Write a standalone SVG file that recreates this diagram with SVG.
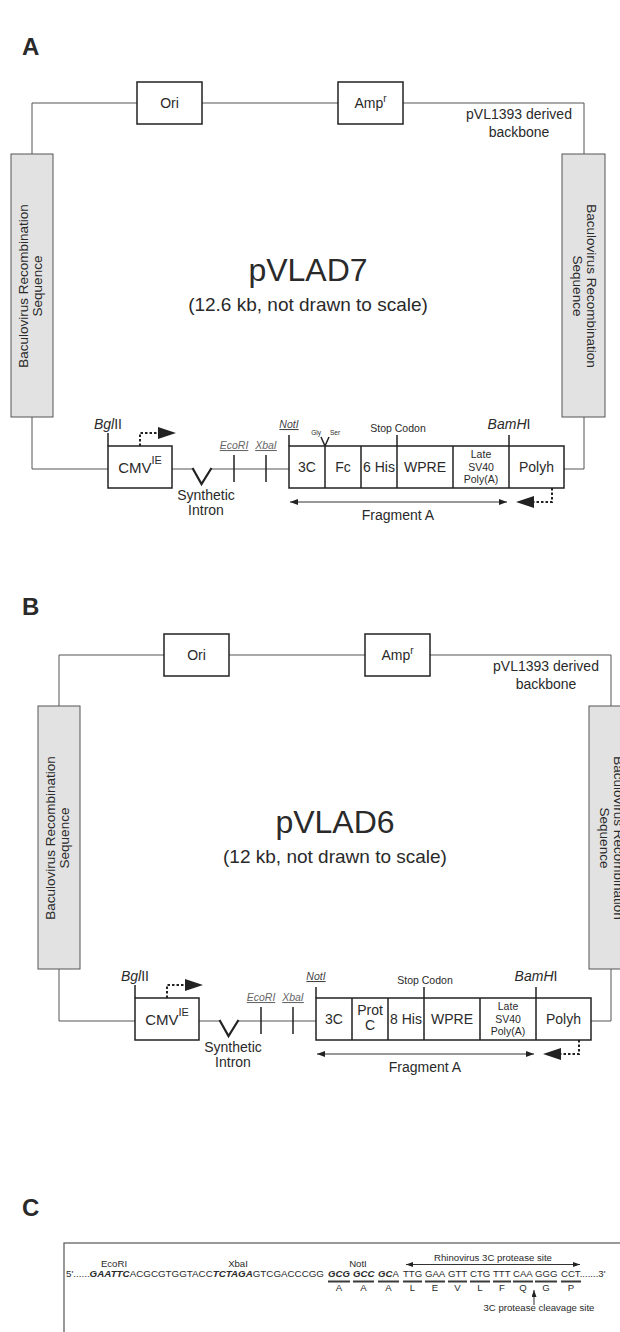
<svg xmlns="http://www.w3.org/2000/svg" width="620" height="1332" viewBox="0 0 620 1332">
<style>
text{font-family:"Liberation Sans",Arial,sans-serif;fill:#2a2a2a}
.m{text-anchor:middle}
.bb{fill:none;stroke:#555;stroke-width:1}
.box{fill:#fff;stroke:#222;stroke-width:1.5}
.gbox{fill:#e2e2e2;stroke:#555;stroke-width:1}
.tk{stroke:#222;stroke-width:1.5;fill:none}
.dash{fill:none;stroke:#222;stroke-width:2;stroke-dasharray:2.5 2}
.pl{font-size:24px;font-weight:bold}
.f14{font-size:14px}
.f13{font-size:13.5px}
.f10{font-size:10.5px}
.re{font-size:10.5px;font-style:italic;fill:#666;text-decoration:underline}
.sq{font-size:9.6px}
.bi{font-weight:bold;font-style:italic}
.bar{stroke:#3a3a3a;stroke-width:2.2}
.thin{stroke:#333;stroke-width:1;fill:none}
</style>
<defs>
<marker id="ah" markerWidth="8" markerHeight="6" refX="8" refY="3" orient="auto-start-reverse" markerUnits="userSpaceOnUse"><path d="M0,0L8,3L0,6z" fill="#222"/></marker>
<marker id="ahs" markerWidth="7" markerHeight="5" refX="7" refY="2.5" orient="auto-start-reverse" markerUnits="userSpaceOnUse"><path d="M0,0L7,2.5L0,5z" fill="#222"/></marker>
</defs>

<!-- PANEL A -->
<g id="panelA">
<text class="pl" x="22" y="55">A</text>
<g id="a-connectors">
<path class="bb" d="M32,154V103H584V154"/>
<path class="bb" d="M32,417V469H108"/>
<path class="bb" d="M564,469H584V417"/>
<path class="bb" d="M172,469H193M211,469H289"/>
<path d="M192.5,468L201.5,484L211.5,468" stroke="#222" stroke-width="2.2" fill="none"/>
<path class="tk" d="M234,455V482M266,455V482M108,433V446M289,435V446M397,435V446M509,435V446"/>
<path class="tk" d="M321,437L325,446L329,437" stroke-width="1.2"/>
<path class="dash" d="M140,446V433H159"/>
<polygon points="158,427 176,433 158,439" fill="#222"/>
<path class="dash" d="M552,488V502H534"/>
<polygon points="534,496 516,502 534,508" fill="#222"/>
<line class="thin" x1="290" y1="502" x2="507" y2="502" marker-start="url(#ah)" marker-end="url(#ah)"/>
</g>
<g id="a-ori"><rect class="box" x="137" y="82" width="65" height="42" stroke-width="1.4"/><text class="m f14" x="169.5" y="108">Ori</text></g>
<g id="a-amp"><rect class="box" x="338" y="82" width="65" height="42" stroke-width="1.4"/><text class="m f14" x="370.5" y="108">Amp<tspan font-size="10" dy="-6">r</tspan></text></g>
<g id="a-backbone-label"><text class="m f14" x="519" y="119">pVL1393 derived</text><text class="m f14" x="519" y="137">backbone</text></g>
<g id="a-bac-left"><rect class="gbox" x="11" y="154" width="42" height="263"/>
<g transform="translate(32,286) rotate(-90)"><text class="m f13" x="0" y="-3.6">Baculovirus Recombination</text><text class="m f13" x="0" y="10.4">Sequence</text></g></g>
<g id="a-bac-right"><rect class="gbox" x="562" y="154" width="43" height="263"/>
<g transform="translate(583.5,286) rotate(90)"><text class="m f13" x="0" y="-3.6">Baculovirus Recombination</text><text class="m f13" x="0" y="10.4">Sequence</text></g></g>
<g id="a-title"><text class="m" x="308" y="281" font-size="32">pVLAD7</text><text class="m" x="308" y="311" font-size="19">(12.6 kb, not drawn to scale)</text></g>
<g id="a-cmv"><rect class="box" x="108" y="446" width="64" height="42"/><text class="m" x="140" y="473" font-size="15">CMV<tspan font-size="11" dy="-9">IE</tspan></text></g>
<g id="a-bglii"><text class="m f14" x="108" y="429"><tspan font-style="italic">Bgl</tspan>II</text></g>
<g id="a-intron"><text class="m f14" x="206" y="500">Synthetic</text><text class="m f14" x="206" y="515">Intron</text></g>
<g id="a-ecori"><text class="re m" x="234" y="449">EcoRI</text></g>
<g id="a-xbai"><text class="re m" x="266" y="449">XbaI</text></g>
<g id="a-noti"><text class="m" x="289" y="428" font-size="10.5" font-style="italic" text-decoration="underline" style="fill:#444">NotI</text></g>
<g id="a-glyser"><text class="m" x="316" y="435" font-size="6.5">Gly</text><text class="m" x="335" y="435" font-size="6.5">Ser</text></g>
<g id="a-stop"><text class="m f10" x="398" y="432">Stop Codon</text></g>
<g id="a-bamhi"><text class="m f14" x="509" y="429"><tspan font-style="italic">BamH</tspan>I</text></g>
<g id="a-cassette">
<rect class="box" x="289" y="446" width="275" height="42"/>
<path class="tk" d="M325,446V488M361,446V488M397,446V488M453,446V488M509,446V488"/>
<text class="m f14" x="307" y="472">3C</text>
<text class="m f14" x="343" y="472">Fc</text>
<text class="m f14" x="379" y="472">6 His</text>
<text class="m f14" x="425" y="472">WPRE</text>
<text class="m f10" x="481" y="458">Late</text><text class="m f10" x="481" y="471">SV40</text><text class="m f10" x="481" y="483">Poly(A)</text>
<text class="m f14" x="536.5" y="472">Polyh</text>
</g>
<g id="a-fragment"><text class="m f14" x="398" y="520">Fragment A</text></g>
</g>

<!-- PANEL B -->
<text class="pl" x="22" y="615">B</text>
<g id="panelB" transform="translate(27,552)">
<g id="b-connectors">
<path class="bb" d="M32,154V103H584V154"/>
<path class="bb" d="M32,417V469H108"/>
<path class="bb" d="M564,469H584V417"/>
<path class="bb" d="M172,469H193M211,469H289"/>
<path d="M192.5,468L201.5,484L211.5,468" stroke="#222" stroke-width="2.2" fill="none"/>
<path class="tk" d="M234,455V482M266,455V482M108,433V446M289,435V446M397,435V446M509,435V446"/>
<path class="dash" d="M140,446V433H159"/>
<polygon points="158,427 176,433 158,439" fill="#222"/>
<path class="dash" d="M552,488V502H534"/>
<polygon points="534,496 516,502 534,508" fill="#222"/>
<line class="thin" x1="290" y1="502" x2="507" y2="502" marker-start="url(#ah)" marker-end="url(#ah)"/>
</g>
<g id="b-ori"><rect class="box" x="137" y="82" width="65" height="42" stroke-width="1.4"/><text class="m f14" x="169.5" y="108">Ori</text></g>
<g id="b-amp"><rect class="box" x="338" y="82" width="65" height="42" stroke-width="1.4"/><text class="m f14" x="370.5" y="108">Amp<tspan font-size="10" dy="-6">r</tspan></text></g>
<g id="b-backbone-label"><text class="m f14" x="519" y="119">pVL1393 derived</text><text class="m f14" x="519" y="137">backbone</text></g>
<g id="b-bac-left"><rect class="gbox" x="11" y="154" width="42" height="263"/>
<g transform="translate(32,286) rotate(-90)"><text class="m f13" x="0" y="-3.6">Baculovirus Recombination</text><text class="m f13" x="0" y="10.4">Sequence</text></g></g>
<g id="b-bac-right"><rect class="gbox" x="562" y="154" width="43" height="263"/>
<g transform="translate(583.5,286) rotate(90)"><text class="m f13" x="0" y="-3.6">Baculovirus Recombination</text><text class="m f13" x="0" y="10.4">Sequence</text></g></g>
<g id="b-title"><text class="m" x="308" y="281" font-size="32">pVLAD6</text><text class="m" x="308" y="311" font-size="19">(12 kb, not drawn to scale)</text></g>
<g id="b-cmv"><rect class="box" x="108" y="446" width="64" height="42"/><text class="m" x="140" y="473" font-size="15">CMV<tspan font-size="11" dy="-9">IE</tspan></text></g>
<g id="b-bglii"><text class="m f14" x="108" y="429"><tspan font-style="italic">Bgl</tspan>II</text></g>
<g id="b-intron"><text class="m f14" x="206" y="500">Synthetic</text><text class="m f14" x="206" y="515">Intron</text></g>
<g id="b-ecori"><text class="re m" x="234" y="449">EcoRI</text></g>
<g id="b-xbai"><text class="re m" x="266" y="449">XbaI</text></g>
<g id="b-noti"><text class="m" x="289" y="428" font-size="10.5" font-style="italic" text-decoration="underline" style="fill:#444">NotI</text></g>
<g id="b-stop"><text class="m f10" x="398" y="432">Stop Codon</text></g>
<g id="b-bamhi"><text class="m f14" x="509" y="429"><tspan font-style="italic">BamH</tspan>I</text></g>
<g id="b-cassette">
<rect class="box" x="289" y="446" width="275" height="42"/>
<path class="tk" d="M325,446V488M361,446V488M397,446V488M453,446V488M509,446V488"/>
<text class="m f14" x="307" y="472">3C</text>
<text class="m f14" x="343" y="463">Prot</text><text class="m f14" x="343" y="478">C</text>
<text class="m f14" x="379" y="472">8 His</text>
<text class="m f14" x="425" y="472">WPRE</text>
<text class="m f10" x="481" y="458">Late</text><text class="m f10" x="481" y="471">SV40</text><text class="m f10" x="481" y="483">Poly(A)</text>
<text class="m f14" x="536.5" y="472">Polyh</text>
</g>
<g id="b-fragment"><text class="m f14" x="398" y="520">Fragment A</text></g>
</g>

<!-- PANEL C -->
<g id="panelC">
<text class="pl" x="22" y="1216">C</text>
<rect x="64" y="1243" width="600" height="110" fill="none" stroke="#555" stroke-width="1.2"/>
<g id="c-labels">
<text class="sq m" x="114" y="1267">EcoRI</text>
<text class="sq m" x="238" y="1267">XbaI</text>
<text class="sq m" x="358" y="1267">NotI</text>
<text class="sq m" x="493" y="1261">Rhinovirus 3C protease site</text>
<text class="sq m" x="539" y="1311">3C protease cleavage site</text>
</g>
<g id="c-connectors">
<line class="thin" x1="406" y1="1264.5" x2="580" y2="1264.5" marker-start="url(#ahs)" marker-end="url(#ahs)"/>
<line class="thin" x1="534" y1="1305" x2="534" y2="1290" stroke-width="1.3" marker-end="url(#ahs)"/>
</g>
<g id="c-sequence">
<text class="sq" x="66" y="1277" textLength="258" lengthAdjust="spacingAndGlyphs">5'......<tspan class="bi">GAATTC</tspan>ACGCGTGGTACC<tspan class="bi">TCTAGA</tspan>GTCGACCCGG</text>
<text class="sq bi" x="328" y="1277">GCG</text>
<text class="sq bi" x="353" y="1277">GCC</text>
<text class="sq" x="378" y="1277"><tspan class="bi">GC</tspan>A</text>
<text class="sq" x="403" y="1277">TTG</text>
<text class="sq" x="425" y="1277">GAA</text>
<text class="sq" x="448" y="1277">GTT</text>
<text class="sq" x="470" y="1277">CTG</text>
<text class="sq" x="493" y="1277">TTT</text>
<text class="sq" x="513" y="1277">CAA</text>
<text class="sq" x="535" y="1277">GGG</text>
<text class="sq" x="561" y="1277">CCT.......3'</text>
</g>
<g id="c-codon-bars">
<path class="bar" d="M328,1281.5h22M353,1281.5h21M378,1281.5h21M403,1281.5h19M425,1281.5h20M448,1281.5h19M470,1281.5h20M493,1281.5h18M513,1281.5h20M535,1281.5h22M561,1281.5h20"/>
</g>
<g id="c-aminoacids">
<text class="sq m" x="339" y="1291">A</text>
<text class="sq m" x="363.5" y="1291">A</text>
<text class="sq m" x="388.5" y="1291">A</text>
<text class="sq m" x="412.5" y="1291">L</text>
<text class="sq m" x="435" y="1291">E</text>
<text class="sq m" x="457.5" y="1291">V</text>
<text class="sq m" x="480" y="1291">L</text>
<text class="sq m" x="502" y="1291">F</text>
<text class="sq m" x="523" y="1291">Q</text>
<text class="sq m" x="546" y="1291">G</text>
<text class="sq m" x="571" y="1291">P</text>
</g>
</g>
</svg>
